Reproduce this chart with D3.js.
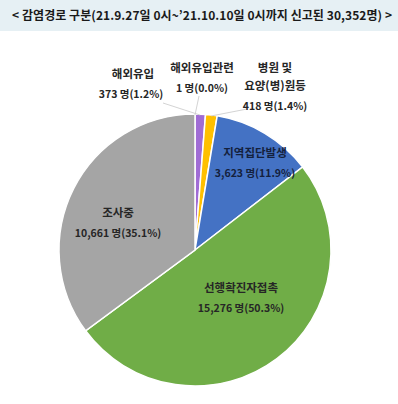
<!DOCTYPE html>
<html>
<head>
<meta charset="utf-8">
<script src="https://cdn.jsdelivr.net/npm/d3@7.9.0/dist/d3.min.js"></script>
<style>
  html, body { margin: 0; padding: 0; background: #fff; }
  svg { display: block; font-family: "Noto Sans CJK KR", "Noto Sans", sans-serif; }
</style>
</head>
<body>
<svg id="chart" width="398" height="404"></svg>
<script>
// data, clockwise from 12 o'clock
const categories = ['해외유입관련', '해외유입', '병원 및 요양(병)원등', '지역집단발생', '선행확진자접촉', '조사중'];
const counts = [1, 373, 418, 3623, 15276, 10661];
const shares = ['0.0%', '1.2%', '1.4%', '11.9%', '50.3%', '35.1%'];
const sliceColors = ['#f2b8c6', '#a06cd5', '#ffc000', '#4472c4', '#70ad47', '#a5a5a5'];

const svg = d3.select('#chart');
const cx = 195, cy = 250, radius = 136;

// title band
svg.append('rect').attr('x', 0).attr('y', 0).attr('width', 398).attr('height', 31).attr('fill', '#e6f0f4');
svg.append('text')
  .attr('x', 12).attr('y', 20)
  .attr('textLength', 380).attr('lengthAdjust', 'spacing')
  .attr('font-size', 12).attr('font-weight', 'bold').attr('fill', '#1a1a1a')
  .text('< 감염경로 구분(21.9.27일 0시~’21.10.10일 0시까지 신고된 30,352명) >');

const pie = d3.pie().sort(null).value((d) => d);
const arcs = pie(counts);
const arc = d3.arc().innerRadius(0).outerRadius(radius);

const g = svg.append('g').attr('transform', `translate(${cx},${cy})`);
g.selectAll('path')
  .data(arcs)
  .join('path')
  .attr('d', arc)
  .attr('fill', (d, i) => sliceColors[i])
  .attr('stroke', '#fff')
  .attr('stroke-width', 1.5);

// label layout: [title lines], anchor point relative to centre, optional leader line end
const labelLayout = [
  { lines: ['해외유입관련'], at: [7, -178], line: [4, -154] },
  { lines: ['해외유입'], at: [-62, -172], numDx: -2, line: [-32, -147] },
  { lines: ['병원 및', '요양(병)원등'], at: [80, -178], line: [52, -141] },
  { lines: ['지역집단발생'], at: [60, -93] },
  { lines: ['선행확진자접촉'], at: [46, 42] },
  { lines: ['조사중'], at: [-77, -33] }
];

const fmt = d3.format(',');

arcs.forEach((a, i) => {
  const L = labelLayout[i];
  if (L.line) {
    const mid = (a.startAngle + a.endAngle) / 2;
    const p = [Math.sin(mid) * (radius - 1), -Math.cos(mid) * (radius - 1)];
    g.append('line')
      .attr('x1', p[0]).attr('y1', p[1])
      .attr('x2', L.line[0]).attr('y2', L.line[1])
      .attr('stroke', '#c8c8c8').attr('stroke-width', 0.8);
  }
  const t = g.append('text')
    .attr('text-anchor', 'middle')
    .attr('font-weight', 'bold')
    .attr('fill', i === 3 ? '#14213d' : '#262626');
  L.lines.forEach((s, k) => {
    t.append('tspan')
      .attr('x', L.at[0]).attr('y', L.at[1] + k * 18)
      .attr('font-size', 11.5)
      .text(s);
  });
  t.append('tspan')
    .attr('x', L.at[0] + (L.numDx || 0)).attr('y', L.at[1] + L.lines.length * 18 + 2)
    .attr('font-size', 10.5)
    .text(`${fmt(counts[i])} 명(${shares[i]})`);
});
</script>
</body>
</html>
